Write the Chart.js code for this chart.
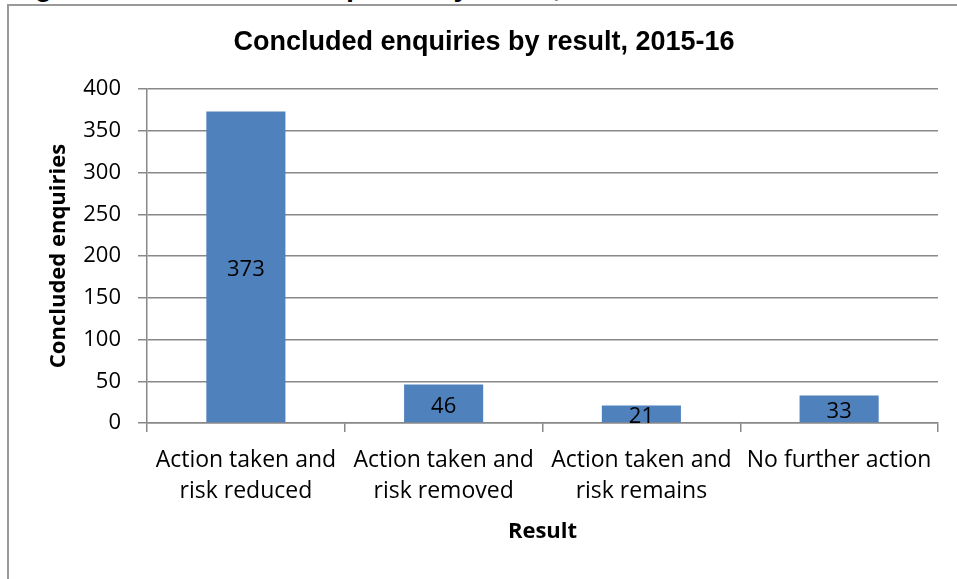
<!DOCTYPE html>
<html>
<head>
<meta charset="utf-8">
<script src="https://cdn.jsdelivr.net/npm/chart.js@4.4.0/dist/chart.umd.min.js"></script>
<style>
    html, body { margin: 0; padding: 0; background: #fff; overflow: hidden; }
    #wrap { position: relative; width: 957px; height: 579px; }
    #heading {
        position: absolute; left: 10px; top: -27px; white-space: nowrap;
        font: bold 28px "Liberation Sans", Arial, sans-serif; line-height: 28px; color: #000;
    }
    #frame {
        position: absolute; left: 7px; top: 4px; width: 990px; height: 620px;
        border-left: 2px solid #999; border-top: 2px solid #999;
    }
    #chart { position: absolute; left: 0; top: 0; }
</style>
</head>
<body>
<div id="wrap">
    <div id="heading">Figure 10: Concluded enquiries by result, 2015-16</div>
    <div id="frame"></div>
    <canvas id="chart" width="957" height="579"></canvas>
</div>
<script>
var categories = [
    ['Action taken and', 'risk reduced'],
    ['Action taken and', 'risk removed'],
    ['Action taken and', 'risk remains'],
    'No further action'
];
var enquiries = [373, 46, 21, 33];
var yTicks = [0, 50, 100, 150, 200, 250, 300, 350, 400];

var labelFont = '"Open Sans", sans-serif';
var gridColor = '#888888';

// value labels drawn in the middle of each bar
var barValues = {
    id: 'barValues',
    afterDatasetsDraw: function (chart) {
        var ctx = chart.ctx;
        var meta = chart.getDatasetMeta(0);
        ctx.save();
        ctx.font = '22px ' + labelFont;
        ctx.fillStyle = '#000';
        ctx.textAlign = 'center';
        ctx.textBaseline = 'middle';
        meta.data.forEach(function (bar, i) {
            var v = chart.data.datasets[0].data[i];
            ctx.fillText(String(v), bar.x, (bar.y + bar.base) / 2 + 3);
        });
        ctx.restore();
    }
};

var config = {
    type: 'bar',
    data: {
        labels: categories,
        datasets: [{
            data: enquiries,
            backgroundColor: '#4F81BD',
            barPercentage: 0.4,
            categoryPercentage: 1.0
        }]
    },
    options: {
        responsive: false,
        animation: false,
        layout: {
            padding: { left: 30, right: 19, top: 0, bottom: 0 }
        },
        plugins: {
            legend: { display: false },
            tooltip: { enabled: false },
            title: {
                display: true,
                text: 'Concluded enquiries by result, 2015-16',
                color: '#000',
                font: { family: '"Liberation Sans", Arial, sans-serif', size: 27, weight: 'bold', lineHeight: 1.2 },
                padding: { top: 26, bottom: 30.6 }
            }
        },
        scales: {
            x: {
                grid: {
                    display: true,
                    drawOnChartArea: false,
                    drawTicks: true,
                    tickLength: 9,
                    color: gridColor,
                    lineWidth: 1.5
                },
                border: { color: gridColor, width: 1.5 },
                ticks: {
                    color: '#000',
                    padding: 13,
                    maxRotation: 0,
                    autoSkip: false,
                    font: { family: labelFont, size: 23, lineHeight: 1.35 }
                },
                title: {
                    display: true,
                    text: 'Result',
                    color: '#000',
                    font: { family: labelFont, size: 22, weight: 'bold', lineHeight: 1.2 },
                    padding: { top: 0, bottom: 34 }
                },
                afterFit: function (scale) { scale.height = 156; }
            },
            y: {
                min: 0,
                max: 400,
                afterBuildTicks: function (scale) {
                    scale.ticks = yTicks.map(function (v) { return { value: v }; });
                },
                grid: {
                    color: gridColor,
                    lineWidth: 1.5,
                    tickLength: 9
                },
                border: { color: gridColor, width: 1.5 },
                ticks: {
                    color: '#000',
                    padding: 17,
                    font: { family: labelFont, size: 22 }
                },
                title: {
                    display: true,
                    text: 'Concluded enquiries',
                    color: '#000',
                    font: { family: labelFont, size: 22, weight: 'bold', lineHeight: 1.2 },
                    padding: { top: 16, bottom: 0 }
                },
                afterFit: function (scale) { scale.width = 117; }
            }
        }
    },
    plugins: [barValues]
};

var ctx = document.getElementById('chart').getContext('2d');
new Chart(ctx, config);
</script>
</body>
</html>
